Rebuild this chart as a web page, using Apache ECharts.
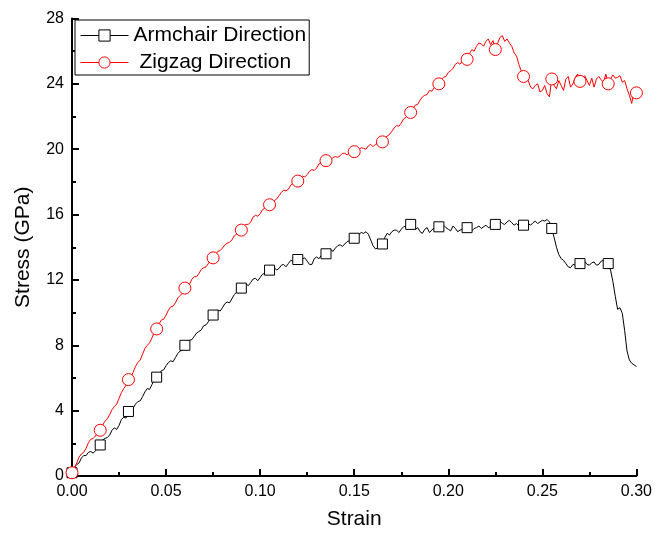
<!DOCTYPE html>
<html>
<head>
<meta charset="utf-8">
<script src="https://cdn.jsdelivr.net/npm/echarts@6/dist/echarts.min.js"></script>
<style>
html,body{margin:0;padding:0;background:#fff;}
#chart{width:655px;height:535px;}
</style>
</head>
<body>
<div id="chart"></div>
<script>
// Strain grid step (x values of the recorded curves)
const strainStep = 0.00125;
const markerEvery = 12; // a marker every 0.015 strain

const seriesNames = ['Armchair Direction', 'Zigzag Direction'];

const armchairStress = [
  0.2,0.55,0.7,0.8,1.1,1.25,1.25,1.45,1.5,1.4,
  1.55,1.75,1.9,2.2,2.3,2.35,2.5,2.8,2.95,2.85,
  3.1,3.45,3.6,3.55,3.95,4.0,4.15,4.4,4.55,4.6,
  4.85,5.15,5.35,5.3,5.6,5.9,6.05,6.15,6.45,6.5,
  6.75,6.95,7.05,7.0,7.25,7.5,7.65,7.7,8.0,8.25,
  8.3,8.35,8.55,8.75,8.85,8.95,9.2,9.25,9.45,9.7,
  9.85,10.05,10.15,10.1,10.3,10.55,10.65,10.6,10.85,11.1,
  11.25,11.2,11.5,11.7,11.75,11.65,11.85,12.05,12.1,11.95,
  12.15,12.35,12.4,12.3,12.6,12.65,12.75,12.6,12.7,12.9,
  12.95,12.8,13.0,13.2,13.15,13.1,13.25,13.35,13.3,13.35,
  13.15,12.95,12.95,13.3,13.4,13.3,13.5,13.55,13.6,13.75,
  13.85,13.75,13.95,14.1,14.15,14.05,14.2,14.35,14.4,14.3,
  14.55,14.7,14.8,14.9,14.85,14.95,14.8,14.45,14.1,13.9,
  13.95,14.05,14.2,14.6,14.85,14.75,14.95,15.05,15.05,14.9,
  15.1,15.25,15.3,15.2,15.4,15.25,15.1,15.2,14.95,14.85,
  15.1,15.2,14.9,15.05,15.2,15.1,15.25,15.4,15.35,15.2,
  15.1,15.0,15.3,15.15,14.95,15.05,15.1,15.3,15.2,15.1,
  15.0,15.15,15.2,15.3,15.15,15.25,15.35,15.2,15.25,15.45,
  15.4,15.5,15.6,15.45,15.4,15.55,15.65,15.5,15.35,15.45,
  15.3,15.2,15.35,15.5,15.45,15.35,15.5,15.6,15.45,15.55,
  15.65,15.6,15.7,15.55,15.15,14.6,14.0,13.55,13.3,13.2,
  13.0,12.8,12.75,12.95,12.9,12.75,13.0,13.1,13.15,12.95,
  12.9,13.05,13.1,12.9,12.95,13.15,13.2,13.25,13.0,12.6,
  11.9,11.0,10.2,10.3,9.95,8.9,7.65,7.1,6.9,6.8,
  6.7
];

const zigzagStress = [
  0.2,0.45,0.8,1.15,1.35,1.45,1.7,2.05,2.25,2.3,
  2.45,2.7,2.8,3.1,3.35,3.5,3.75,4.05,4.25,4.4,
  4.75,5.1,5.35,5.55,5.9,6.05,6.35,6.7,6.95,7.1,
  7.45,7.8,8.0,8.15,8.45,8.8,9.0,9.3,9.55,9.6,
  9.85,10.15,10.35,10.4,10.6,10.9,11.05,11.2,11.5,11.55,
  11.75,12.05,12.2,12.2,12.4,12.65,12.75,12.8,13.0,13.25,
  13.35,13.5,13.75,13.8,13.95,14.15,14.25,14.3,14.45,14.7,
  14.8,14.85,15.05,15.3,15.4,15.4,15.55,15.85,15.95,15.9,
  16.05,16.3,16.4,16.45,16.6,16.8,16.85,16.95,17.15,17.35,
  17.5,17.45,17.55,17.8,17.9,17.95,18.05,18.3,18.35,18.3,
  18.45,18.65,18.75,18.7,18.85,19.1,19.15,19.1,19.3,19.45,
  19.35,19.5,19.55,19.5,19.6,19.75,19.75,19.65,19.8,19.95,
  19.85,19.8,19.95,20.1,20.05,20.0,20.2,20.3,20.15,20.3,
  20.35,20.3,20.45,20.7,20.8,20.9,21.1,21.3,21.45,21.4,
  21.6,21.85,21.95,22.1,22.25,22.5,22.7,22.75,23.0,23.2,
  23.3,23.35,23.6,23.55,23.75,23.95,24.0,24.25,24.4,24.45,
  24.7,24.8,24.95,25.2,25.3,25.2,25.4,25.6,25.5,25.85,
  26.1,26.0,26.3,26.5,26.45,26.3,26.6,26.75,26.4,26.65,
  26.1,26.5,26.85,26.95,26.6,26.75,26.5,26.3,25.9,25.7,
  25.2,24.8,24.45,24.6,24.2,23.8,23.7,23.9,24.0,23.5,
  23.6,23.9,23.4,23.2,24.3,23.9,23.7,24.2,23.9,23.6,
  24.3,24.45,23.8,24.0,24.4,24.6,24.15,24.35,24.5,24.2,
  23.9,24.35,23.8,24.3,24.45,24.25,24.1,24.6,24.0,24.3,
  24.55,24.35,24.4,24.5,24.1,24.2,23.7,23.3,22.8,23.6,
  23.45
];

const xTicks = [0, 0.05, 0.10, 0.15, 0.20, 0.25, 0.30];
const yTicks = [0, 4, 8, 12, 16, 20, 24, 28];

function toPairs(vals) {
  return vals.map((v, i) => [+(i * strainStep).toFixed(6), v]);
}

const FONT = 'Arial, "Liberation Sans", sans-serif';
const chart = echarts.init(document.getElementById('chart'), null, {renderer: 'canvas'});

function axisCommon() {
  return {
    axisLine: {show: true, onZero: false, lineStyle: {color: '#000', width: 2}},
    axisTick: {show: true, inside: true, length: 7, lineStyle: {color: '#000', width: 2}},
    minorTick: {show: true, splitNumber: 2, length: 4, lineStyle: {color: '#000', width: 2}},
    splitLine: {show: false},
    axisLabel: {color: '#000', fontSize: 16, fontFamily: FONT, margin: 8},
    nameTextStyle: {color: '#000', fontSize: 21, fontFamily: FONT}
  };
}

const markerSize = (sizeVal, lastIdx) => (v, p) =>
  (p.dataIndex % markerEvery === 0 && p.dataIndex <= lastIdx) ? sizeVal : 0;

const option = {
  animation: false,
  backgroundColor: '#fff',
  grid: {left: 72, right: 18, top: 18.5, bottom: 56, containLabel: false},
  legend: {
    left: 75, top: 20, orient: 'vertical',
    itemWidth: 48, itemHeight: 14, itemGap: 6,
    padding: [5, 3, 2, 5],
    borderColor: '#000', borderWidth: 1,
    backgroundColor: '#fff',
    itemStyle: {borderWidth: 1},
    lineStyle: {width: 1},
    textStyle: {color: '#000', fontSize: 21, lineHeight: 20, fontFamily: FONT},
    data: [
      {name: seriesNames[0]},
      {name: seriesNames[1], textStyle: {padding: [0, 0, 0, 6]}}
    ]
  },
  xAxis: Object.assign(axisCommon(), {
    type: 'value', min: xTicks[0], max: xTicks[xTicks.length - 1], interval: 0.05,
    name: 'Strain', nameLocation: 'middle', nameGap: 33,
    axisLabel: Object.assign(axisCommon().axisLabel, {formatter: v => v.toFixed(2)})
  }),
  yAxis: Object.assign(axisCommon(), {
    type: 'value', min: yTicks[0], max: yTicks[yTicks.length - 1], interval: 4,
    name: 'Stress (GPa)', nameLocation: 'middle', nameGap: 38
  }),
  series: [
    {
      name: seriesNames[0], type: 'line', data: toPairs(armchairStress),
      symbol: 'rect', symbolSize: markerSize(10, 228), showSymbol: true,
      lineStyle: {color: '#000', width: 1},
      itemStyle: {color: '#fff', borderColor: '#000', borderWidth: 1},
      z: 2
    },
    {
      name: seriesNames[1], type: 'line', data: toPairs(zigzagStress),
      symbol: 'circle', symbolSize: markerSize(12, 240), showSymbol: true,
      lineStyle: {color: '#ff0000', width: 1},
      itemStyle: {color: '#fff', borderColor: '#ff0000', borderWidth: 1},
      z: 3
    }
  ]
};
chart.setOption(option);
</script>
</body>
</html>
